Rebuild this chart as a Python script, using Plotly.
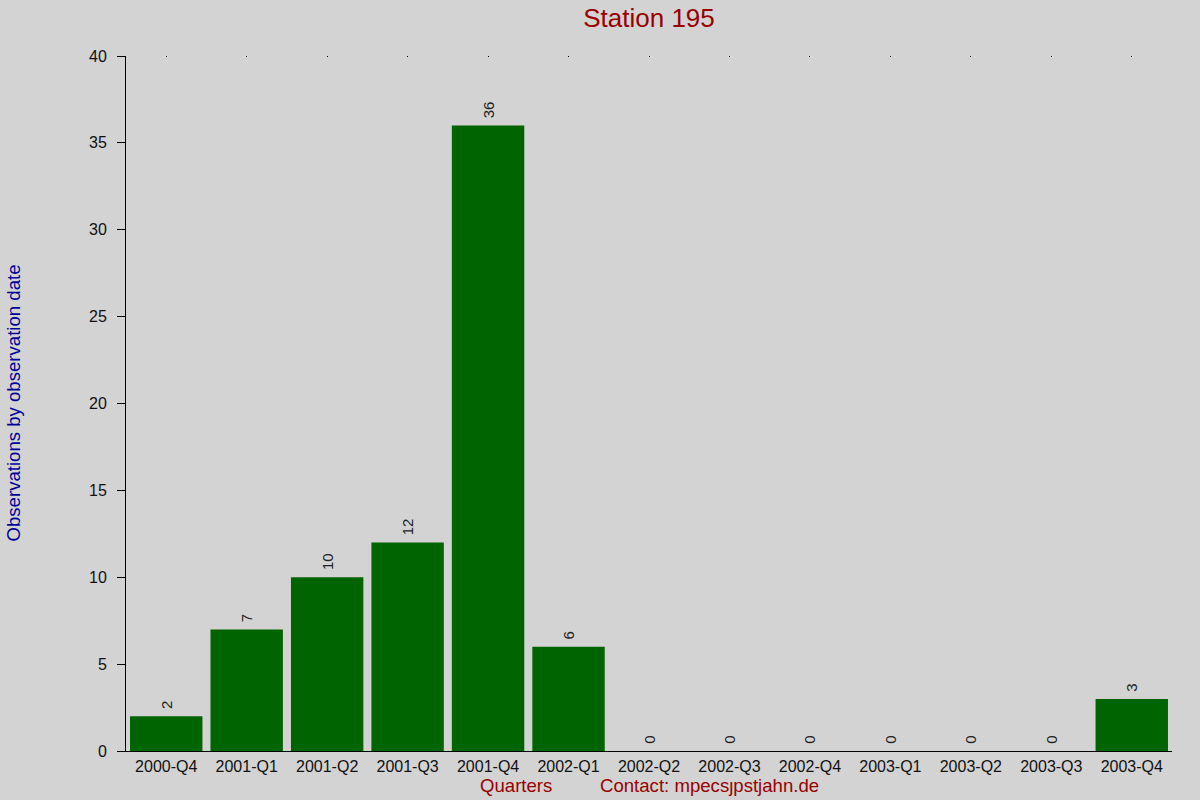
import plotly.graph_objects as go

categories = ["2000-Q4", "2001-Q1", "2001-Q2", "2001-Q3", "2001-Q4", "2002-Q1", "2002-Q2",
              "2002-Q3", "2002-Q4", "2003-Q1", "2003-Q2", "2003-Q3", "2003-Q4"]
values = [2, 7, 10, 12, 36, 6, 0, 0, 0, 0, 0, 0, 3]
y_ticks = [0, 5, 10, 15, 20, 25, 30, 35, 40]

FONT = "Liberation Sans, Arial, sans-serif"
BG = "#d3d3d3"
L, R, T, B = 126, 28, 56, 49
PW, PH = 1200 - L - R, 800 - T - B

fig = go.Figure()
fig.add_trace(go.Bar(
    x=categories, y=values,
    marker=dict(color="#006400", line=dict(width=0)),
    text=[" " + str(v) for v in values],
    textposition="outside",
    textangle=-90,
    textfont=dict(family=FONT, size=15, color="#222222"),
    cliponaxis=False,
    hoverinfo="x+y",
))
# invisible trace carrying the top tick dots
fig.add_trace(go.Scatter(x=categories, y=[None] * len(categories), xaxis="x2",
                         mode="lines", showlegend=False, hoverinfo="skip"))

xrange = [-0.5, len(categories) - 0.5]

fig.update_layout(
    width=1200, height=800,
    paper_bgcolor=BG, plot_bgcolor=BG,
    margin=dict(l=L, r=R, t=T, b=B, autoexpand=False),
    bargap=0.1,
    showlegend=False,
    title=dict(text="Station 195", x=(L + 1200 - R) / 2 / 1200, xanchor="center",
               y=1 - 18 / 800, yanchor="middle",
               font=dict(family=FONT, size=26, color="#990000")),
    font=dict(family=FONT, size=16, color="#111111"),
    xaxis=dict(
        categoryorder="array", categoryarray=categories, range=xrange,
        showline=True, linecolor="#000000", linewidth=1,
        showgrid=False, zeroline=False, ticks="",
        tickfont=dict(family=FONT, size=16, color="#111111"),
        ticklabelstandoff=1, automargin=False,
    ),
    xaxis2=dict(
        overlaying="x", side="top",
        categoryorder="array", categoryarray=categories, range=xrange,
        showline=False, showgrid=False, zeroline=False,
        ticks="inside", ticklen=1, tickwidth=1, tickcolor="#000000",
        showticklabels=False, automargin=False,
    ),
    yaxis=dict(
        range=[0, 40], tickvals=y_ticks,
        showline=True, linecolor="#000000", linewidth=1,
        showgrid=False, zeroline=False,
        ticks="outside", ticklen=8, tickcolor="#000000",
        tickfont=dict(family=FONT, size=16, color="#111111"),
        ticklabelstandoff=7, automargin=False,
    ),
)

fig.add_annotation(text="Observations by observation date", xref="paper", yref="paper",
                   x=(13 - L) / PW, y=0.5, xanchor="center", yanchor="middle", textangle=-90,
                   showarrow=False, font=dict(family=FONT, size=18.6, color="#000099"))
fig.add_annotation(text="Quarters", xref="paper", yref="paper",
                   x=(516 - L) / PW, y=-35 / PH, xanchor="center", yanchor="middle",
                   showarrow=False, font=dict(family=FONT, size=18.6, color="#990000"))
fig.add_annotation(text="Contact: mpecs\u0237pstjahn.de", xref="paper", yref="paper",
                   x=(709 - L) / PW, y=-35 / PH, xanchor="center", yanchor="middle",
                   showarrow=False, font=dict(family=FONT, size=18.6, color="#990000"))

fig.write_html("out.html", config={"displayModeBar": False},
               post_script="document.body.style.margin='0';document.body.style.overflow='hidden';")
